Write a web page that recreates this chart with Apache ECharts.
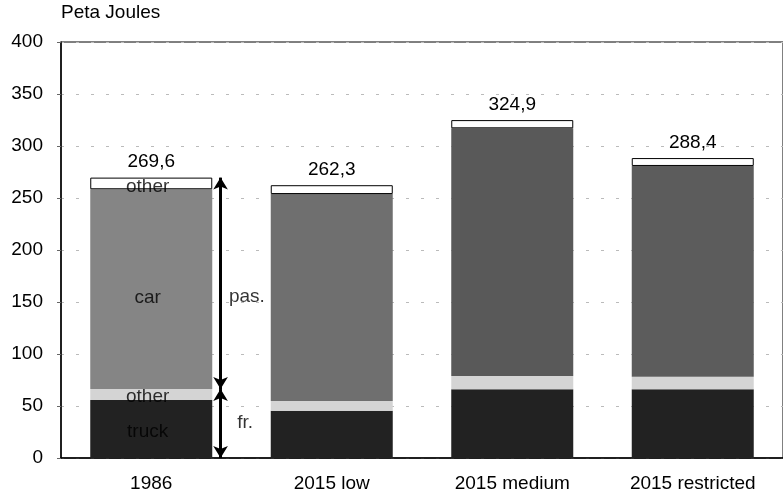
<!DOCTYPE html>
<html>
<head>
<meta charset="utf-8">
<script src="https://cdn.jsdelivr.net/npm/echarts@6/dist/echarts.min.js"></script>
<style>
html,body{margin:0;padding:0;background:#fff;}
#chart{width:783px;height:495px;}
</style>
</head>
<body>
<div id="chart"></div>
<script>
// ---- data ----
var categories = ['1986', '2015 low', '2015 medium', '2015 restricted'];
var truck = [55.8, 45.5, 66.0, 66.0];
var otherFreight = [10.5, 9.3, 12.8, 12.2];
var car = [192.1, 199.0, 238.2, 202.6];
var otherPassenger = [11.2, 8.5, 7.9, 7.6];
var totals = [269.6, 262.3, 324.9, 288.4];
var yTicks = [0, 50, 100, 150, 200, 250, 300, 350, 400];
// annotation texts [x (category units), y (PJ), text]
var annotations = [
  [-0.02, 261, 'other'],
  [-0.02, 154, 'car'],
  [-0.02, 58.6, 'other'],
  [-0.02, 25, 'truck'],
  [0.53, 155, 'pas.'],
  [0.52, 33.7, 'fr.']
];
var arrowX = 0.384;
var freightTop = truck[0] + otherFreight[0];

var carShades = ['#858585', '#6f6f6f', '#595959', '#5c5c5c'];
var FONT = 'Liberation Sans, Arial, Helvetica, sans-serif';

var chart = echarts.init(document.getElementById('chart'));
var option = {
  animation: false,
  backgroundColor: '#fff',
  textStyle: {fontFamily: FONT},
  grid: {left: 61, top: 42, width: 733, height: 416, show: true, borderColor: '#000', borderWidth: 1},
  xAxis: [{
    type: 'category',
    data: categories,
    axisLine: {onZero: false, lineStyle: {color: '#000', width: 1.5}},
    axisTick: {alignWithLabel: true, length: 7, lineStyle: {color: '#000', width: 1.5}},
    axisLabel: {color: '#000', fontSize: 19, fontFamily: FONT, margin: 16}
  }, {
    type: 'value', min: -0.5, max: 3.5, show: false
  }],
  yAxis: {
    type: 'value', min: 0, max: 400, interval: 50,
    name: 'Peta Joules',
    nameLocation: 'end',
    nameGap: 20,
    nameTextStyle: {color: '#000', fontSize: 19, fontFamily: FONT, align: 'left'},
    axisLine: {show: true, onZero: false, lineStyle: {color: '#000', width: 1.5}},
    axisTick: {show: true, length: 4, lineStyle: {color: '#666'}},
    axisLabel: {color: '#000', fontSize: 19, fontFamily: FONT, margin: 18,
      formatter: function (v) { return yTicks.indexOf(v) >= 0 ? String(v) : ''; }},
    splitLine: {show: true, lineStyle: {color: '#bbb', type: [3, 12], width: 1}}
  },
  series: [{
    name: 'truck', type: 'bar', stack: 'all', barWidth: 122, data: truck,
    itemStyle: {color: '#222'}
  }, {
    name: 'other freight', type: 'bar', stack: 'all', data: otherFreight,
    itemStyle: {color: '#d4d4d4'}
  }, {
    name: 'car', type: 'bar', stack: 'all', data: car,
    itemStyle: {color: function (p) { return carShades[p.dataIndex]; }}
  }, {
    name: 'other passenger', type: 'bar', stack: 'all', data: otherPassenger,
    itemStyle: {color: '#fff', borderColor: '#000', borderWidth: 1},
    label: {show: true, position: 'top', distance: 6, color: '#000', fontSize: 19, fontFamily: FONT,
      formatter: function (p) { return String(totals[p.dataIndex].toFixed(1)).replace('.', ','); }}
  }, {
    name: 'annotations', type: 'scatter', xAxisIndex: 1, symbolSize: 0, silent: true,
    data: annotations,
    label: {show: true, position: 'inside', color: '#000', fontSize: 19, fontFamily: FONT,
      formatter: function (p) { return p.data[2]; }},
    markLine: {
      silent: true,
      symbol: ['arrow', 'arrow'],
      symbolSize: [11, 12],
      label: {show: false},
      lineStyle: {color: '#000', width: 3, type: 'solid'},
      data: [
        [{coord: [arrowX, totals[0]]}, {coord: [arrowX, freightTop]}],
        [{coord: [arrowX, freightTop]}, {coord: [arrowX, 0]}]
      ]
    }
  }]
};
chart.setOption(option);
</script>
</body>
</html>
